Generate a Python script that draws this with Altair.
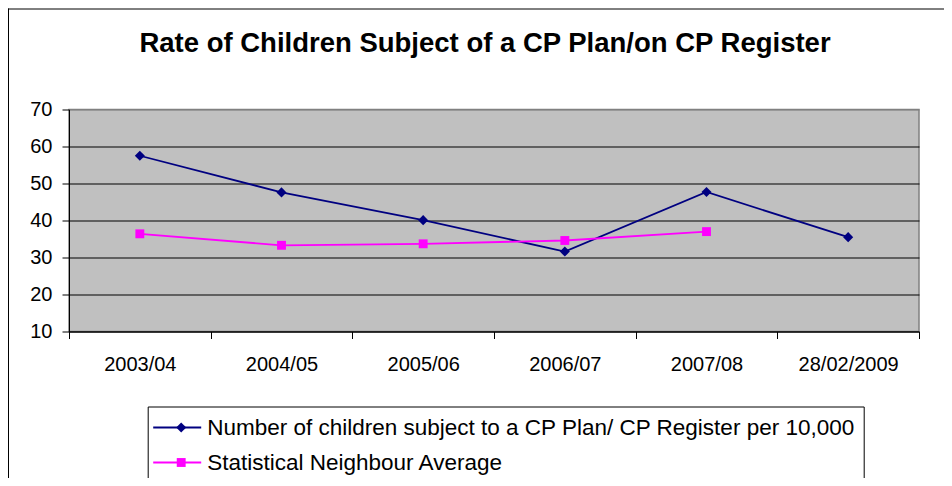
import altair as alt
import pandas as pd

categories = ["2003/04", "2004/05", "2005/06", "2006/07", "2007/08", "28/02/2009"]
series_names = [
    "Number of children subject to a CP Plan/ CP Register per 10,000",
    "Statistical Neighbour Average",
]
rate_values = [57.5, 47.6, 40.1, 31.6, 47.7, 35.5]
neighbour_values = [36.4, 33.3, 33.7, 34.6, 37.0, None]
colors = ["#000080", "#FF00FF"]
y_ticks = [10, 20, 30, 40, 50, 60, 70]

rows = []
for c, v in zip(categories, rate_values):
    rows.append({"period": c, "value": v, "series": series_names[0]})
for c, v in zip(categories, neighbour_values):
    if v is not None:
        rows.append({"period": c, "value": v, "series": series_names[1]})
df = pd.DataFrame(rows)
marker_names = [s + " " for s in series_names]
df["marker"] = df["series"] + " "

FONT = "Liberation Sans"

x_enc = alt.X(
    "period:N",
    sort=categories,
    bandPosition=0.5,
    scale=alt.Scale(type="band", paddingInner=0, paddingOuter=0, domain=categories),
    axis=alt.Axis(
        title=None, labelAngle=0, tickBand="extent", tickSize=7, tickColor="black",
        domainColor="black", labelFont=FONT, labelFontSize=20, labelColor="black",
        labelPadding=16, grid=False,
    ),
)
y_enc = alt.Y(
    "value:Q",
    scale=alt.Scale(domain=[10, 70], nice=False, zero=False),
    axis=alt.Axis(
        title=None, values=y_ticks, tickSize=7, tickColor="black", domainColor="black",
        labelFont=FONT, labelFontSize=20, labelColor="black", labelPadding=10,
        grid=True,
        gridColor=alt.condition("datum.value == 70", alt.value("#808080"), alt.value("black")),
        gridWidth=1,
    ),
)

common_legend = dict(
    title=None, orient="none", legendX=78.7, legendY=297, direction="vertical",
    padding=8, rowPadding=10, symbolSize=576, labelOffset=17,
    labelFont=FONT, labelFontSize=22.5, labelLimit=1000, symbolStrokeWidth=1.8,
)
leg_lines = alt.Legend(
    **common_legend, strokeColor="black", fillColor="white", labelColor="black",
    symbolType="M-2,0H2", symbolOffset=8.5,
)
leg_markers = alt.Legend(
    **common_legend, labelColor="transparent", labelExpr="''",
    symbolStrokeColor="transparent", symbolOffset=12.5,
)

marker_paths = [
    "M0,-0.42L0.42,0L0,0.42L-0.42,0Z",
    "M-0.37,-0.37H0.37V0.37H-0.37Z",
]

base = alt.Chart(df)

lines = base.mark_line(strokeWidth=1.8).encode(
    x=x_enc,
    y=y_enc,
    color=alt.Color("series:N", scale=alt.Scale(domain=series_names, range=colors), legend=leg_lines),
)

points = base.mark_point(filled=True, size=576, opacity=1, strokeWidth=0).encode(
    x=x_enc,
    y=y_enc,
    fill=alt.Fill("marker:N", scale=alt.Scale(domain=marker_names, range=colors), legend=leg_markers),
    shape=alt.Shape("marker:N", scale=alt.Scale(domain=marker_names, range=marker_paths), legend=leg_markers),
)

frame = alt.Chart(alt.Data(values=[{"a": 1}])).mark_rule(color="black", strokeWidth=1).encode(
    x=alt.value(-60.5), y=alt.value(-101), y2=alt.value(380)
)
frame_top = alt.Chart(alt.Data(values=[{"a": 1}])).mark_rule(color="black", strokeWidth=1).encode(
    x=alt.value(-61), x2=alt.value(900), y=alt.value(-100.5), y2=alt.value(-100.5)
)

chart = alt.layer(frame, frame_top, lines, points).properties(
    width=850,
    height=222,
    autosize=alt.AutoSizeParams(type="none"),
    padding={"left": 61, "top": 101.5, "right": 25, "bottom": 146},
    title=alt.TitleParams(
        "Rate of Children Subject of a CP Plan/on CP Register",
        font=FONT, fontSize=27.5, fontWeight="bold", color="black",
        anchor="middle", dx=-9, offset=0, dy=77, baseline="bottom",
    ),
).configure_view(
    fill="#C0C0C0", stroke="#808080", strokeWidth=1.5
)

chart.save("out.html", embed_options={"renderer": "svg", "actions": False})
